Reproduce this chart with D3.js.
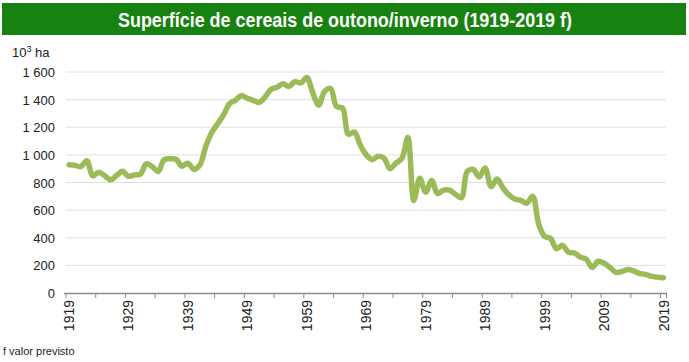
<!DOCTYPE html>
<html>
<head>
<meta charset="utf-8">
<script src="https://cdn.jsdelivr.net/npm/d3@7"></script>
<style>
  body { margin: 0; background: #fff; }
  svg { display: block; font-family: "Liberation Sans", Arial, sans-serif; }
</style>
</head>
<body>
<svg id="chart"></svg>
<script>
// years 1919..2019 (2019 = forecast)
const years = d3.range(1919, 2020);
// area, 10^3 ha
const area = [
  928, 924, 915, 958, 848, 875, 850, 820, 850, 882,
  845, 855, 860, 935, 915, 880, 965, 972, 968, 918,
  940, 895, 925, 1060, 1160, 1225, 1290, 1370, 1395, 1430,
  1410, 1395, 1380, 1420, 1475, 1490, 1515, 1495, 1530, 1520,
  1560, 1450, 1360, 1460, 1480, 1350, 1340, 1150, 1165, 1070,
  1000, 965, 990, 975, 900, 940, 975, 1125, 670, 830,
  730, 815, 720, 745, 745, 715, 690, 880, 895, 840,
  905, 770, 825, 760, 710, 680, 670, 650, 700, 500,
  410, 395, 320, 345, 295, 290, 260, 245, 185, 230,
  215, 185, 150, 155, 170, 160, 140, 135, 120, 115,
  110
];
const yTicks = [0, 200, 400, 600, 800, 1000, 1200, 1400, 1600];
const xLabels = [1919, 1929, 1939, 1949, 1959, 1969, 1979, 1989, 1999, 2009, 2019];

const W = 689, H = 362;
const svg = d3.select('#chart').attr('width', W).attr('height', H);

const pt = d3.formatLocale({decimal: ',', thousands: ' ', grouping: [3], currency: ['', '']});
const fmt = pt.format(',');

// title bar
svg.append('rect')
  .attr('x', 2).attr('y', 3).attr('width', 684).attr('height', 32)
  .attr('fill', '#17820f');
svg.append('text')
  .attr('x', 345).attr('y', 26.5)
  .attr('text-anchor', 'middle')
  .style('font-family', '"Liberation Sans Narrow", "Arial Narrow", sans-serif')
  .style('font-weight', 'bold')
  .style('font-size', '21px')
  .attr('textLength', 454)
  .attr('lengthAdjust', 'spacingAndGlyphs')
  .attr('fill', '#fff')
  .text('Superfície de cereais de outono/inverno (1919-2019 f)');

const x = d3.scaleBand().domain(years).range([66, 666.5]).padding(0);
const y = d3.scaleLinear().domain([0, 1600]).range([293, 72]);

// gridlines
svg.append('g').selectAll('line')
  .data(yTicks.filter(d => d > 0))
  .join('line')
  .attr('x1', 66).attr('x2', 666)
  .attr('y1', d => y(d)).attr('y2', d => y(d))
  .attr('stroke', '#e0e0e0').attr('stroke-width', 1);

// y labels
svg.append('g').selectAll('text')
  .data(yTicks)
  .join('text')
  .attr('x', 55)
  .attr('y', d => y(d) + 5)
  .attr('text-anchor', 'end')
  .style('font-size', '13px')
  .attr('fill', '#222')
  .text(d => fmt(d));

const unit = svg.append('text')
  .attr('x', 12).attr('y', 57)
  .style('font-size', '13px')
  .attr('fill', '#222');
unit.append('tspan').text('10');
unit.append('tspan').attr('dy', -5).style('font-size', '9px').text('3');
unit.append('tspan').attr('dy', 5).text(' ha');

// x axis line + ticks every 5 categories (between categories)
const ax = svg.append('g');
ax.append('line')
  .attr('x1', 64).attr('x2', 667)
  .attr('y1', 293.5).attr('y2', 293.5)
  .attr('stroke', '#8c8c8c').attr('stroke-width', 1.5);
const tickYears = years.filter((d, i) => i % 5 === 0);
ax.selectAll('line.tick')
  .data(tickYears)
  .join('line')
  .attr('class', 'tick')
  .attr('x1', d => x(d)).attr('x2', d => x(d))
  .attr('y1', 293.5).attr('y2', 298)
  .attr('stroke', '#8c8c8c').attr('stroke-width', 1);
ax.append('line')
  .attr('x1', 666.5).attr('x2', 666.5)
  .attr('y1', 293.5).attr('y2', 298)
  .attr('stroke', '#8c8c8c');

ax.selectAll('text')
  .data(xLabels)
  .join('text')
  .attr('transform', d => `translate(${x(d) + x.bandwidth() / 2 + 5}, 300) rotate(-90)`)
  .attr('text-anchor', 'end')
  .style('font-size', '14px')
  .attr('fill', '#222')
  .text(d => d);

// line
const line = d3.line()
  .x((d, i) => x(years[i]) + x.bandwidth() / 2)
  .y(d => y(d))
  .curve(d3.curveCatmullRom);

svg.append('path')
  .datum(area)
  .attr('d', line)
  .attr('fill', 'none')
  .attr('stroke', '#9bbb59')
  .attr('stroke-width', 5.5)
  .attr('stroke-linejoin', 'round')
  .attr('stroke-linecap', 'round');

svg.append('text')
  .attr('x', 3).attr('y', 355)
  .style('font-size', '11px')
  .attr('fill', '#222')
  .text('f valor previsto');
</script>
</body>
</html>
